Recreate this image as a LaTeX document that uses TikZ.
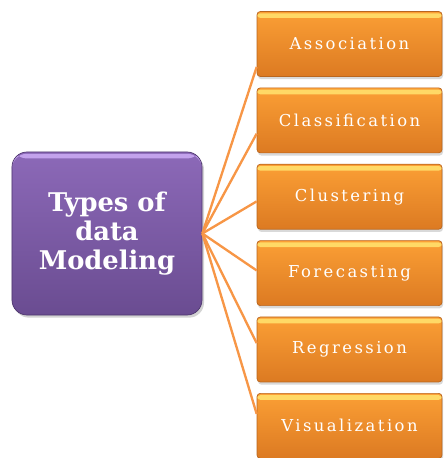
\documentclass[tikz,border=0pt]{standalone}
\usepackage{fontspec}
\setmainfont{DejaVu Serif}
\newfontfamily\leaffont[LetterSpace=15]{DejaVu Serif}
\usetikzlibrary{positioning, shadows}

\definecolor{hubtop}{HTML}{8C69B8}
\definecolor{hubbot}{HTML}{6A4C91}
\definecolor{hubrim}{HTML}{4E376E}
\definecolor{hubglow}{HTML}{C3A2EC}
\definecolor{leaftop}{HTML}{FB9F35}
\definecolor{leafbot}{HTML}{DC7A22}
\definecolor{leafrim}{HTML}{B9661F}
\definecolor{leafglow}{HTML}{FFD966}
\definecolor{spoke}{HTML}{F79646}

\begin{document}
\begin{tikzpicture}[x=0.03cm, y=-0.03cm, node distance=3.2mm,
  hub/.style={rectangle, rounded corners=4.5mm, draw=hubrim, line width=0.6pt,
    top color=hubtop, bottom color=hubbot, text=white, align=center,
    minimum width=5.7cm, minimum height=4.89cm,
    font=\bfseries\fontsize{22}{25}\selectfont,
    drop shadow={opacity=0.35, shadow xshift=0.6mm, shadow yshift=-0.8mm},
    path picture={\fill[hubglow] ([yshift=-1.5pt]path picture bounding box.north west)
      rectangle ([yshift=-5.5pt]path picture bounding box.north east);}},
  leaf/.style={rectangle, rounded corners=1mm, draw=leafrim, line width=0.6pt,
    top color=leaftop, bottom color=leafbot, text=white,
    minimum width=5.55cm, minimum height=1.95cm,
    font=\leaffont\fontsize{14}{16}\selectfont,
    drop shadow={opacity=0.3, shadow xshift=0.3mm, shadow yshift=-0.8mm},
    path picture={\fill[leafglow] ([yshift=-1.5pt]path picture bounding box.north west)
      rectangle ([yshift=-5.5pt]path picture bounding box.north east);}},
  spokeline/.style={draw=spoke, line width=2pt}]

\useasboundingbox (0,0) rectangle (443,458);

\node[hub] (hub) at (107,233.5) {Types of\\data\\Modeling};

\node[leaf] (assoc) at (349.5,44) {Association};
\node[leaf, below=of assoc] (classif) {Classification};
\node[leaf, below=of classif] (cluster) {Clustering};
\node[leaf, below=of cluster] (forecast) {Forecasting};
\node[leaf, below=of forecast] (regress) {Regression};
\node[leaf, below=of regress] (visual) {Visualization};

% spokes fan out from the hub to the left side of each item
\draw[spokeline] (hub.east) -- ([yshift=-0.69cm]assoc.west);
\draw[spokeline] (hub.east) -- ([yshift=-0.40cm]classif.west);
\draw[spokeline] (hub.east) -- ([yshift=-0.14cm]cluster.west);
\draw[spokeline] (hub.east) -- ([yshift=0.08cm]forecast.west);
\draw[spokeline] (hub.east) -- ([yshift=0.19cm]regress.west);
\draw[spokeline] (hub.east) -- ([yshift=0.36cm]visual.west);

\end{tikzpicture}
\end{document}
